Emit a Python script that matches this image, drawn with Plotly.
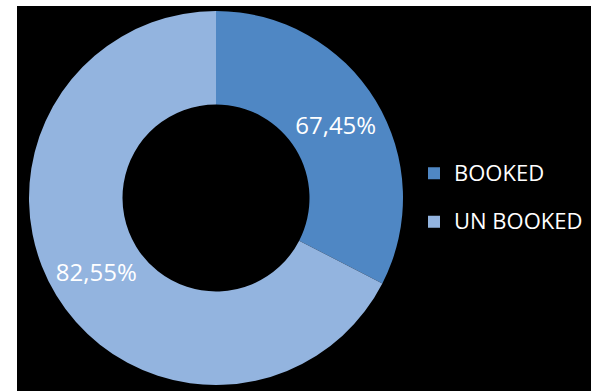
import plotly.graph_objects as go

# Booking split (share of total, %) and the percentage texts printed on the ring
categories = ["BOOKED", "UN BOOKED"]
shares = [32.55, 67.45]
slice_texts = ["67,45%", "82,55%"]
slice_colors = ["#4f87c4", "#93b4df"]

W, H = 601, 391
cx, cy, r = 216, 198, 187  # ring centre and outer radius (px)

legend_labels = [
    f'<span style="font-size:22px;baseline-shift:6px">{c}</span>' for c in categories
]

fig = go.Figure(
    go.Pie(
        labels=legend_labels,
        values=shares,
        text=slice_texts,
        textinfo="text",
        textposition="inside",
        insidetextorientation="horizontal",
        textfont=dict(family="Open Sans", size=24, color="white"),
        hole=0.5,
        sort=False,
        direction="clockwise",
        rotation=0,
        marker=dict(colors=slice_colors, line=dict(width=0)),
        hoverinfo="skip",
        domain=dict(
            x=[(cx - r) / W, (cx + r) / W],
            y=[(H - cy - r) / H, (H - cy + r) / H],
        ),
    )
)

fig.update_layout(
    width=W,
    height=H,
    margin=dict(l=0, r=0, t=0, b=0),
    paper_bgcolor="white",
    plot_bgcolor="black",
    showlegend=True,
    legend=dict(
        x=414 / W,
        xanchor="left",
        y=1 - 144 / H,
        yanchor="top",
        bgcolor="rgba(0,0,0,0)",
        font=dict(family="Open Sans", size=35, color="white"),
    ),
    shapes=[
        dict(
            type="rect",
            xref="paper",
            yref="paper",
            x0=17 / W,
            x1=591 / W,
            y0=0,
            y1=1 - 6 / H,
            fillcolor="black",
            line=dict(width=0),
            layer="below",
        )
    ],
)

fig.write_html("out.html")
